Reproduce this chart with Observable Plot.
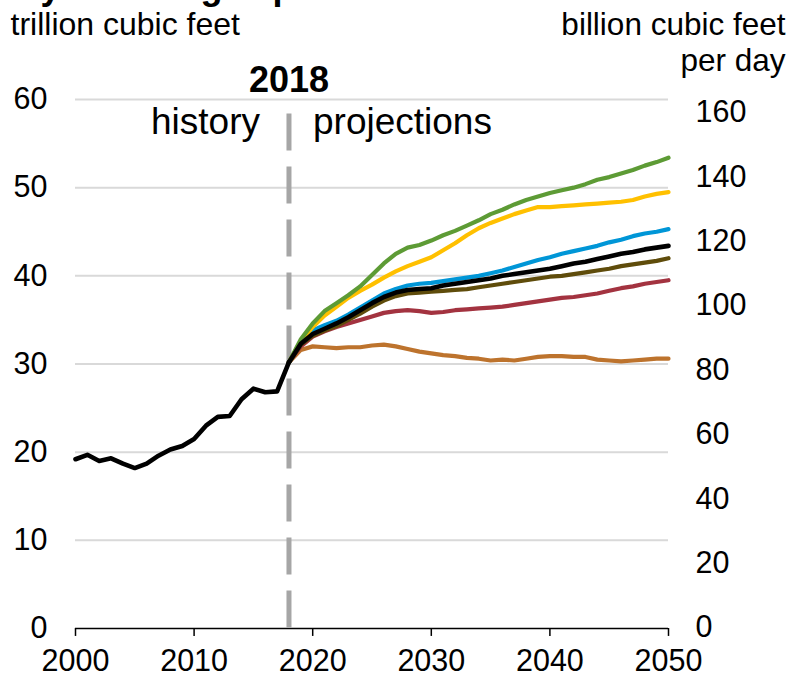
<!DOCTYPE html>
<html>
<head>
<meta charset="utf-8">
<script src="https://cdn.jsdelivr.net/npm/d3@7"></script>
<script src="https://cdn.jsdelivr.net/npm/@observablehq/plot@0.6"></script>
<style>
  html, body { margin: 0; padding: 0; background: #fff; overflow: hidden; }
  #chart { width: 792px; height: 679px; }
</style>
</head>
<body>
<div id="chart"></div>
<script>
// ---- Data (trillion cubic feet) ----
const titleText = "Dry natural gas production";
const leftUnit = "trillion cubic feet";
const rightUnit1 = "billion cubic feet";
const rightUnit2 = "per day";
const historyLabel = "history";
const projectionLabel = "projections";
const splitYear = 2018;

const histYears = [2000,2001,2002,2003,2004,2005,2006,2007,2008,2009,2010,2011,2012,2013,2014,2015,2016,2017,2018];
const histValues = [19.2,19.7,19.0,19.3,18.7,18.2,18.7,19.6,20.3,20.7,21.5,23.0,24.0,24.1,26.0,27.2,26.8,26.9,30.2];

const projYears = [2018,2019,2020,2021,2022,2023,2024,2025,2026,2027,2028,2029,2030,2031,2032,2033,2034,2035,2036,2037,2038,2039,2040,2041,2042,2043,2044,2045,2046,2047,2048,2049,2050];

const lowResource   = [30.2,31.6,32.0,31.9,31.8,31.9,31.9,32.1,32.2,32.0,31.7,31.4,31.2,31.0,30.9,30.7,30.6,30.4,30.5,30.4,30.6,30.8,30.9,30.9,30.8,30.8,30.5,30.4,30.3,30.4,30.5,30.6,30.6];
const lowOilPrice   = [30.2,32.0,33.1,33.7,34.2,34.6,35.0,35.4,35.8,36.0,36.1,36.0,35.8,35.9,36.1,36.2,36.3,36.4,36.5,36.7,36.9,37.1,37.3,37.5,37.6,37.8,38.0,38.3,38.6,38.8,39.1,39.3,39.5];
const lowEconomic   = [30.2,32.2,33.2,33.8,34.3,35.0,35.7,36.5,37.2,37.7,38.0,38.1,38.2,38.3,38.4,38.5,38.7,38.9,39.1,39.3,39.5,39.7,39.9,40.0,40.2,40.4,40.6,40.8,41.1,41.3,41.5,41.7,42.0];
const highEconomic  = [30.2,32.4,33.8,34.4,34.9,35.6,36.4,37.2,38.0,38.5,38.9,39.1,39.2,39.4,39.6,39.8,40.0,40.3,40.6,41.0,41.4,41.8,42.1,42.5,42.8,43.1,43.4,43.8,44.1,44.5,44.8,45.0,45.3];
const highOilPrice  = [30.2,32.6,34.2,35.5,36.5,37.5,38.3,39.0,39.8,40.5,41.1,41.6,42.1,42.9,43.7,44.6,45.4,46.0,46.5,47.0,47.4,47.8,47.8,47.9,48.0,48.1,48.2,48.3,48.4,48.6,49.0,49.3,49.5];
const highResource  = [30.2,32.8,34.6,36.0,36.9,37.8,38.8,40.1,41.4,42.5,43.2,43.5,44.0,44.6,45.1,45.7,46.3,47.0,47.5,48.1,48.6,49.0,49.4,49.7,50.0,50.4,50.9,51.2,51.6,52.0,52.5,52.9,53.4];
const reference     = [30.2,32.3,33.4,34.0,34.6,35.3,36.1,36.9,37.6,38.1,38.4,38.5,38.6,38.9,39.1,39.3,39.5,39.7,40.0,40.2,40.4,40.6,40.8,41.1,41.4,41.6,41.9,42.2,42.5,42.7,43.0,43.2,43.4];

const caseNames  = ["Low Oil and Gas Resource and Technology","Low Oil Price","Low Economic Growth","High Economic Growth","High Oil Price","High Oil and Gas Resource and Technology","Reference"];
const caseSeries = [lowResource, lowOilPrice, lowEconomic, highEconomic, highOilPrice, highResource, reference];
const caseColors = ["#bd732d","#a33340","#5f4c0b","#0096d7","#ffc000","#5d9b35","#000000"];

const xTicks = [2000,2010,2020,2030,2040,2050];
const yTicks = [0,10,20,30,40,50,60];
const gridVals = [10,20,30,40,50,60];
const rightTicks = [0,20,40,60,80,100,120,140,160]; // billion cubic feet per day
const bcfdToTcf = 365 / 1000;

// ---- Build ----
const font = "Liberation Sans, Arial, Helvetica, sans-serif";
const hist = histYears.map((yr, i) => ({year: yr, value: histValues[i]}));

const caseMarks = caseSeries.map((vals, k) =>
  Plot.line(projYears.map((yr, i) => ({year: yr, value: vals[i], name: caseNames[k]})), {
    x: "year", y: "value", stroke: caseColors[k],
    strokeWidth: k === caseSeries.length - 1 ? 4.6 : 4.2,
    strokeLinejoin: "round", strokeLinecap: "round"
  })
);

const chart = Plot.plot({
  width: 792,
  height: 679,
  marginLeft: 75,
  marginRight: 124,
  marginTop: 99,
  marginBottom: 51,
  style: {fontFamily: font, background: "#fff", color: "#000"},
  x: {domain: [2000, 2050], axis: null},
  y: {domain: [0, 60], axis: null},
  marks: [
    // gridlines
    Plot.ruleY(gridVals, {x1: 2000, x2: 2050, stroke: "#d9d9d9", strokeWidth: 2}),
    // x axis line and ticks
    Plot.ruleY([0], {x1: 2000, x2: 2050, stroke: "#000", strokeWidth: 1.5}),
    Plot.ruleX(xTicks, {y1: 0, y2: -0.9, stroke: "#000", strokeWidth: 1.5}),
    Plot.text(xTicks, {x: d => d, y: 0, dy: 33, text: d => String(d), fontSize: 30.5, fill: "#000"}),
    // left axis labels
    Plot.text(yTicks, {y: d => d, frameAnchor: "left", dx: -28, textAnchor: "end", text: d => String(d), fontSize: 30.5, fill: "#000"}),
    // right axis labels (bcf/d)
    Plot.text(rightTicks, {y: d => d * bcfdToTcf, frameAnchor: "right", dx: 27, dy: -1, textAnchor: "start", text: d => String(d), fontSize: 30.5, fill: "#000"}),
    // history / projections divider
    Plot.link([{x: splitYear, top: 58.4, bottom: 0}], {x1: "x", x2: "x", y1: "top", y2: "bottom", stroke: "#a6a6a6", strokeWidth: 5, strokeDasharray: "37,16"}),
    Plot.text([splitYear], {x: d => d, y: 60, dy: -8, lineAnchor: "bottom", text: d => String(d), fontSize: 36, fontWeight: "bold", fill: "#000"}),
    Plot.text([historyLabel], {x: splitYear, y: 60, dx: -29, dy: 34, lineAnchor: "bottom", textAnchor: "end", fontSize: 37, fill: "#000"}),
    Plot.text([projectionLabel], {x: splitYear, y: 60, dx: 24, dy: 34, lineAnchor: "bottom", textAnchor: "start", fontSize: 37, fill: "#000"}),
    // unit labels and clipped title
    Plot.text([titleText], {frameAnchor: "top-left", dx: -75, dy: -101, lineAnchor: "bottom", textAnchor: "start", fontSize: 36, fontWeight: "bold", fill: "#000"}),
    Plot.text([leftUnit], {frameAnchor: "top-left", dx: -65, dy: -65, lineAnchor: "bottom", textAnchor: "start", fontSize: 32, fill: "#000"}),
    Plot.text([rightUnit1], {frameAnchor: "top-right", dx: 117, dy: -65, lineAnchor: "bottom", textAnchor: "end", fontSize: 31.5, fill: "#000"}),
    Plot.text([rightUnit2], {frameAnchor: "top-right", dx: 117, dy: -29, lineAnchor: "bottom", textAnchor: "end", fontSize: 31.5, fill: "#000"}),
    // projections
    ...caseMarks,
    // history
    Plot.line(hist, {x: "year", y: "value", stroke: "#000", strokeWidth: 4.6, strokeLinejoin: "round", strokeLinecap: "round"})
  ]
});

chart.style.overflow = "hidden";
document.getElementById("chart").appendChild(chart);
</script>
</body>
</html>
